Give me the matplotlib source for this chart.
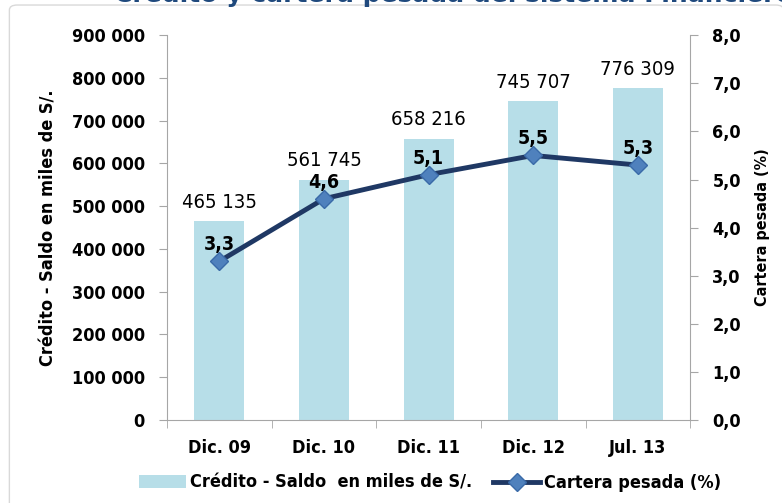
import matplotlib
matplotlib.use("Agg")
import matplotlib.pyplot as plt
from matplotlib.patches import FancyBboxPatch
from matplotlib.lines import Line2D
from matplotlib.patches import Patch

categories = ["Dic. 09", "Dic. 10", "Dic. 11", "Dic. 12", "Jul. 13"]
credito = [465135, 561745, 658216, 745707, 776309]
cartera = [3.3, 4.6, 5.1, 5.5, 5.3]
left_ticks = [0, 100000, 200000, 300000, 400000, 500000, 600000, 700000, 800000, 900000]
right_ticks = [0, 1, 2, 3, 4, 5, 6, 7, 8]

FONT = "DejaVu Sans"
plt.rcParams["font.family"] = [FONT]

fig = plt.figure(figsize=(7.82, 5.03), dpi=100)
fig.patch.set_facecolor("white")

# outer frame
fig.patches.append(FancyBboxPatch((0.012, -0.02), 0.99, 1.01, boxstyle="round,pad=0,rounding_size=0.01",
                                  transform=fig.transFigure, facecolor="white", edgecolor="#d9d9d9", lw=1.0, zorder=-1))

fig.text(0.58, 1.012, "Crédito y cartera pesada del sistema Financiero", ha="center", va="center",
         fontsize=18, fontweight="bold", color="#1F497D")

ax = fig.add_axes([0.2136, 0.165, 0.6690, 0.765])
x = list(range(len(categories)))
ax.bar(x, credito, width=0.48, color="#B7DEE8", zorder=1)
ax.set_xlim(-0.5, len(categories) - 0.5)
ax.set_ylim(0, 900000)
ax.set_yticks(left_ticks)
ax.set_yticklabels([f"{v:,}".replace(",", " ") for v in left_ticks], fontsize=13, fontweight="bold", stretch="condensed")
ax.set_xticks(x)
ax.set_xticklabels(categories, fontsize=13, fontweight="bold", stretch="condensed")
ax.tick_params(axis="x", length=0, pad=14)
ax.set_xticks([i - 0.5 for i in range(len(categories) + 1)], minor=True)
ax.tick_params(axis="x", which="minor", length=6, color="#a6a6a6", direction="out")
ax.tick_params(axis="y", length=6, color="#a6a6a6", direction="out", pad=10)
for s in ["top", "right"]:
    ax.spines[s].set_visible(False)
for s in ["left", "bottom"]:
    ax.spines[s].set_color("#a6a6a6")
ax.set_ylabel("Crédito - Saldo en miles de S/.", fontsize=13, fontweight="bold", labelpad=10, stretch="condensed")
for xi, v in zip(x, credito):
    ax.text(xi, v + 22000, f"{v:,}".replace(",", " "), ha="center", va="bottom", fontsize=14.5, stretch="condensed")

ax2 = ax.twinx()
ax2.set_ylim(0, 8)
ax2.set_yticks(right_ticks)
ax2.set_yticklabels([f"{v:.1f}".replace(".", ",") for v in right_ticks], fontsize=13, fontweight="bold", stretch="condensed")
ax2.tick_params(axis="y", length=6, color="#a6a6a6", direction="out", pad=10)
for s in ["top", "left", "bottom"]:
    ax2.spines[s].set_visible(False)
ax2.spines["right"].set_color("#a6a6a6")
ax2.set_ylabel("Cartera pesada (%)", fontsize=11.5, fontweight="bold", labelpad=10, stretch="condensed")
ax2.plot(x, cartera, color="#1F3864", lw=3.5, marker="D", markersize=9, markerfacecolor="#4F81BD",
         markeredgecolor="#3A6AA8", zorder=3)
for xi, v in zip(x, cartera):
    ax2.annotate(f"{v:.1f}".replace(".", ","), (xi, v), xytext=(0, 8), textcoords="offset points",
                 ha="center", va="baseline", fontsize=14, fontweight="bold", stretch="condensed", zorder=4)

handles = [Patch(facecolor="#B7DEE8", edgecolor="none"),
           Line2D([0], [0], color="#1F3864", lw=3.5, marker="D", markersize=9,
                  markerfacecolor="#4F81BD", markeredgecolor="#3A6AA8")]
fig.legend(handles, ["Crédito - Saldo  en miles de S/.", "Cartera pesada (%)"], loc="center",
           bbox_to_anchor=(0.55, 0.04), ncol=2, frameon=False,
           prop={"size": 13, "weight": "bold", "stretch": "condensed"}, handlelength=2.6,
           columnspacing=1.2, handletextpad=0.2)

fig.savefig("out.png", dpi=100)
